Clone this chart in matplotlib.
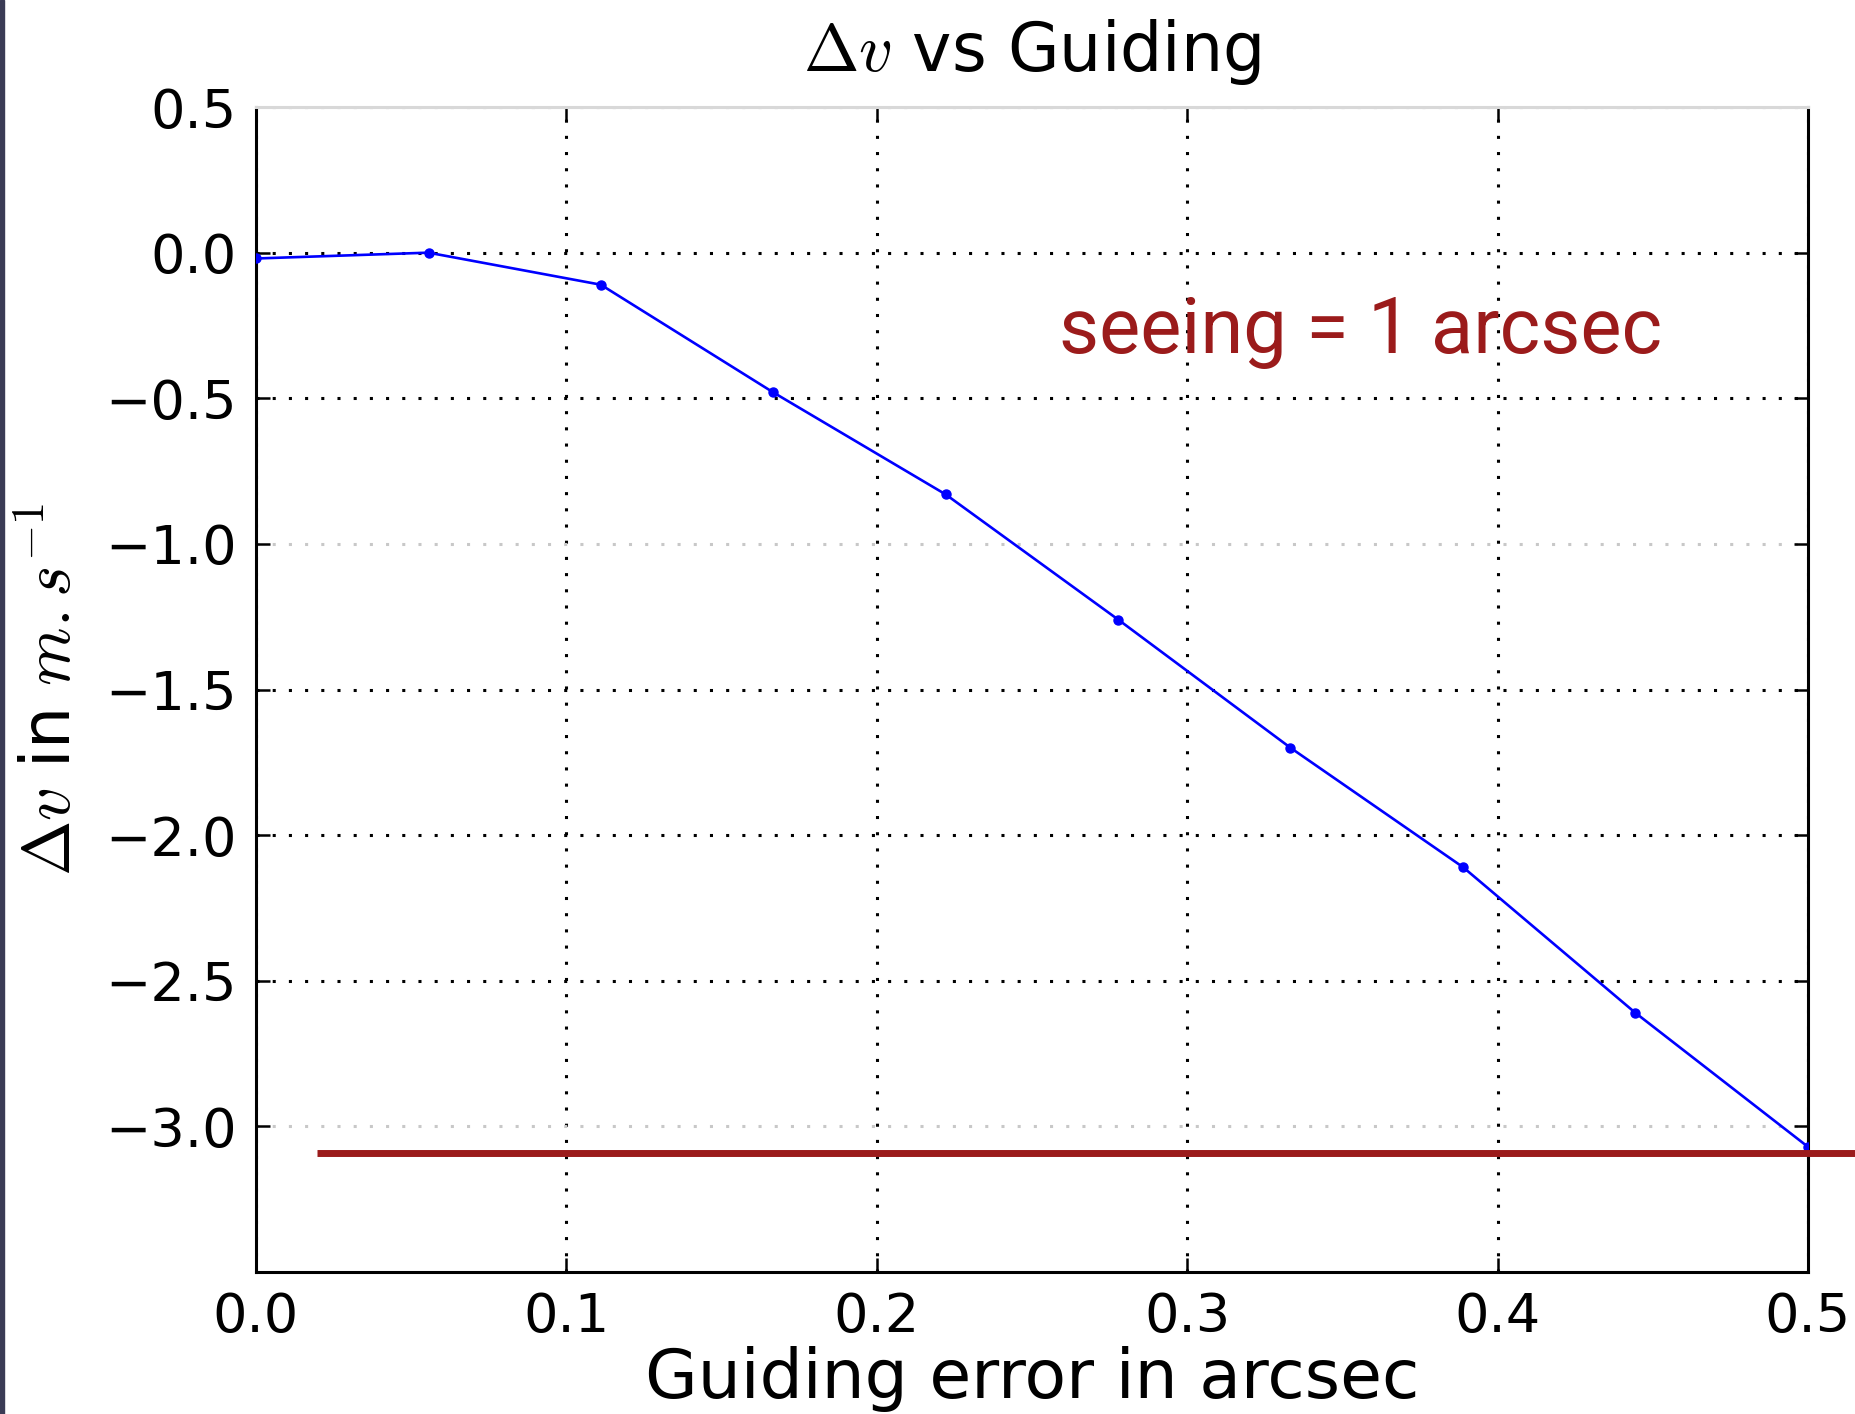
import matplotlib
matplotlib.use("Agg")
import matplotlib.pyplot as plt
from matplotlib.patches import Rectangle

plt.rcParams["mathtext.fontset"] = "cm"

# guiding error (arcsec) and velocity offset (m/s)
guiding = [0.0, 0.0556, 0.1111, 0.1667, 0.2222, 0.2778, 0.3333, 0.3889, 0.4444, 0.5]
delta_v = [-0.02, 0.0, -0.11, -0.48, -0.83, -1.26, -1.70, -2.11, -2.61, -3.07]

# requirement level marked in red
limit_v = -3.09
limit_x = [0.0198, 0.5155]

xticks = [0.0, 0.1, 0.2, 0.3, 0.4, 0.5]
yticks = [0.5, 0.0, -0.5, -1.0, -1.5, -2.0, -2.5, -3.0]

red = "#9b1b1b"

fig = plt.figure(figsize=(18.56, 14.14), dpi=100)
ax = fig.add_axes([0.1379, 0.1004, 0.8362, 0.8239])

ax.plot(guiding, delta_v, color="#0000ff", lw=1.9, marker=".", markersize=13, zorder=3)
ax.plot(limit_x, [limit_v, limit_v], color=red, lw=5, clip_on=False, zorder=4,
        solid_capstyle="butt")

ax.set_xlim(0, 0.5)
ax.set_ylim(-3.5, 0.5)
ax.set_xticks(xticks)
ax.set_yticks(yticks)
ax.set_xticklabels(["0.0", "0.1", "0.2", "0.3", "0.4", "0.5"])
ax.set_yticklabels(["0.5", "0.0", "\u22120.5", "\u22121.0", "\u22121.5",
                    "\u22122.0", "\u22122.5", "\u22123.0"])

ax.grid(True, color="black", linestyle=(0, (1, 4.3)), lw=2.2)
# a couple of the grid rows come out pale
for val, gl in zip(yticks, ax.yaxis.get_gridlines()):
    if val in (-1.0, -3.0):
        gl.set_color("#c8c8c8")

ax.tick_params(direction="in", length=10, width=1.8, labelsize=39, pad=14,
               top=True, right=True)
for side in ax.spines.values():
    side.set_linewidth(2.2)
ax.spines["top"].set_color("#d8d8d8")

ax.set_title(r"$\Delta v$ vs Guiding", fontsize=48, pad=26)
ax.set_xlabel("Guiding error in arcsec", fontsize=49, labelpad=2)
ax.set_ylabel(r"$\Delta v$ in $m.s^{-1}$", fontsize=48, labelpad=14)

ax.text(0.2587, -0.345, "seeing = 1 arcsec", color=red, fontsize=56,
        family=["Roboto", "Liberation Sans"],
        va="baseline", ha="left", zorder=5)

# thin dark strip along the left edge
fig.add_artist(Rectangle((0, 0), 4 / 1856, 1, transform=fig.transFigure,
                         color="#3a3b55", zorder=10))

fig.savefig("out.png", dpi=100)
